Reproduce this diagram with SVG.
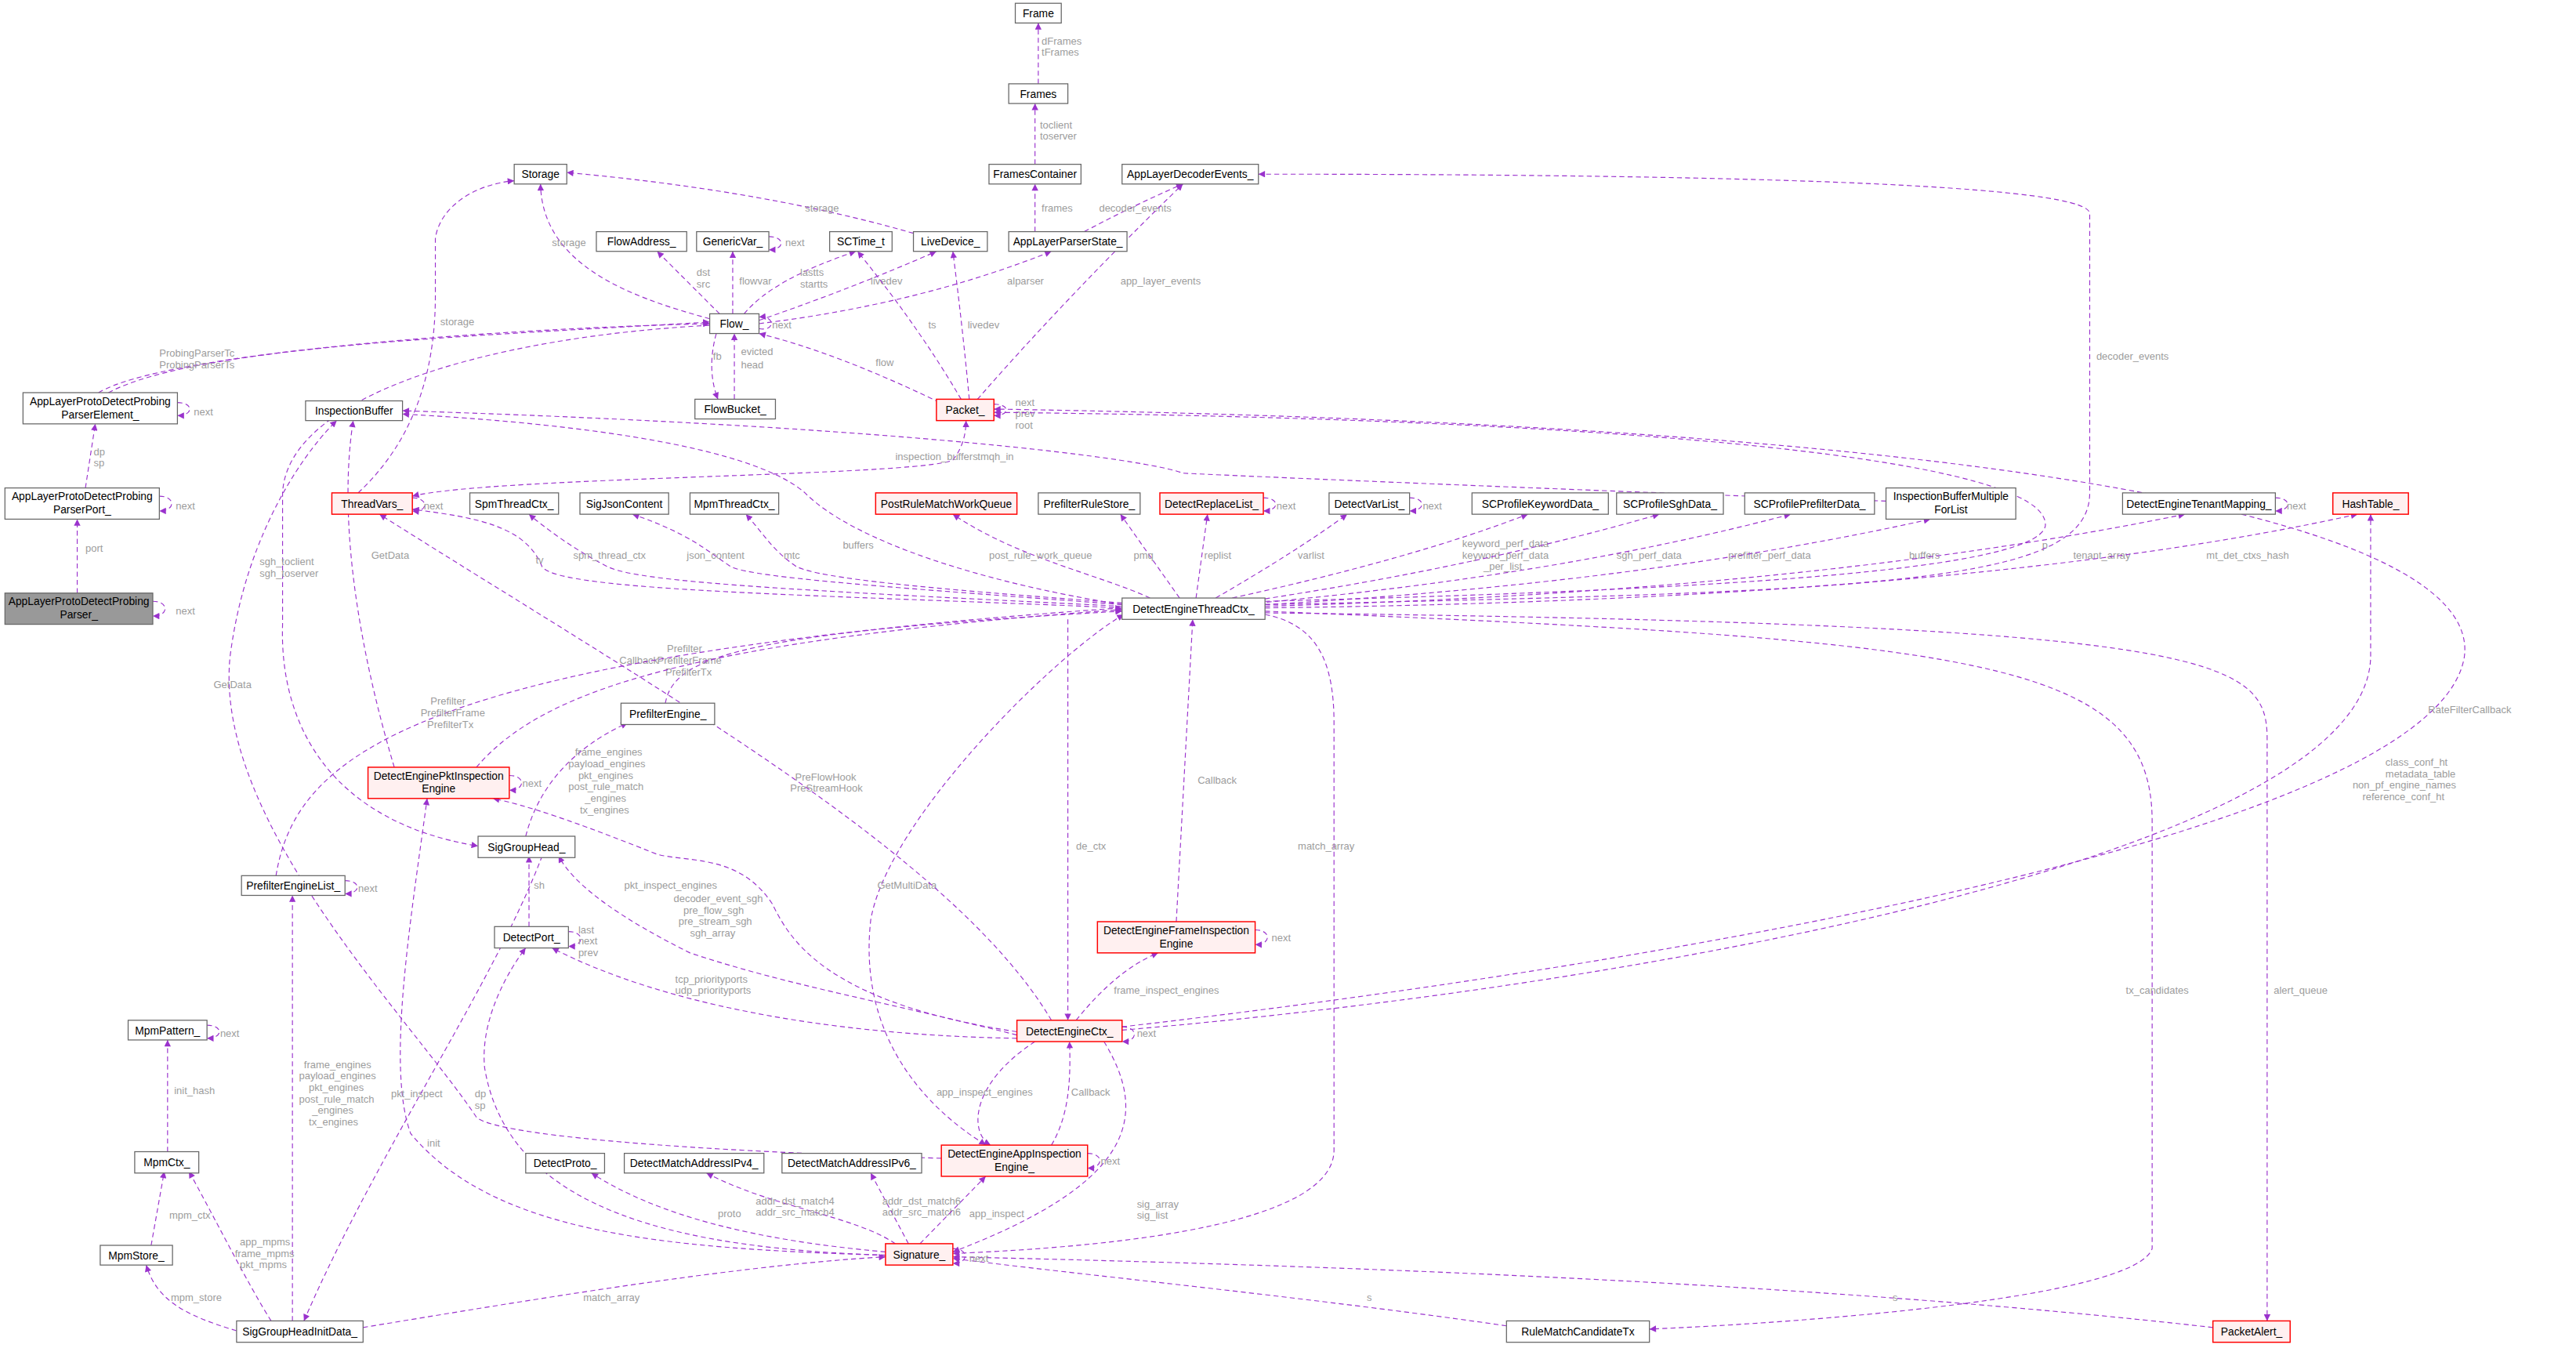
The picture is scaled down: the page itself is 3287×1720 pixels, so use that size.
<svg xmlns="http://www.w3.org/2000/svg" width="3287" height="1720" viewBox="0 0 3287 1720">
<style>
.n rect{fill:#fff;stroke:#666;stroke-width:0.6}
.r rect{fill:#fff0f0;stroke:#f00;stroke-width:0.7}
.g rect{fill:#999;stroke:#666;stroke-width:0.6}
.n text,.r text,.g text{font-family:"Liberation Sans",Arial,sans-serif;font-size:6.6px;text-anchor:middle;fill:#000}
#edges path{fill:none;stroke:#9a32cd;stroke-width:0.55;stroke-dasharray:3,2;marker-end:url(#h)}
#edges text{font-family:"Liberation Sans",Arial,sans-serif;font-size:6.2px;fill:#9c9c9c}
</style>
<defs>
<marker id="h" viewBox="0 0 10 10" refX="10" refY="5" markerUnits="userSpaceOnUse" markerWidth="5" markerHeight="4" orient="auto"><path d="M0,0 L10,5 L0,10 z" fill="#9a32cd"/></marker>
<marker id="hs" viewBox="0 0 10 10" refX="0" refY="5" markerUnits="userSpaceOnUse" markerWidth="5" markerHeight="4" orient="auto"><path d="M10,0 L0,5 L10,10 z" fill="#9a32cd"/></marker>
</defs>
<rect width="3287" height="1720" fill="#fff"/>
<g transform="scale(2.0963)">
<g id="edges">
<path d="M632,51 L632,14"/><text x="634" y="27">dFrames</text><text x="634" y="34">tFrames</text>
<path d="M630,100 L630,63"/><text x="633" y="78">toclient</text><text x="633" y="85">toserver</text>
<path d="M630,141 L630,112"/><text x="634" y="129">frames</text>
<path d="M660,141 Q690,125 720,112"/><text x="669" y="129">decoder_events</text>
<path d="M432,194 C380,180 330,160 329,112"/><text x="336" y="150">storage</text>
<path d="M556,142 C480,120 400,110 345,105"/><text x="490" y="129">storage</text>
<path d="M438,191 L400,153"/><text x="424" y="168">dst</text><text x="424" y="175">src</text>
<path d="M446,191 L446,153"/><text x="450" y="173">flowvar</text>
<path d="M468,144 C478,144 478,152 468,152"/><text x="478" y="150">next</text>
<path d="M453,191 Q470,170 521,153"/><text x="487" y="168">lastts</text><text x="487" y="175">startts</text>
<path d="M462,195 Q520,175 570,153"/><text x="530" y="173">livedev</text>
<path d="M462,197 Q560,185 640,153"/><text x="613" y="173">alparser</text>
<path d="M462,200 C472,202 472,192 462,193"/><text x="470" y="200">next</text>
<path d="M436,203 Q430,225 437,243"/><text x="434" y="219">fb</text>
<path d="M447,243 L447,203"/><text x="451" y="216">evicted</text><text x="451" y="224">head</text>
<path d="M572,245 Q510,215 462,203"/><text x="533" y="223">flow</text>
<path d="M585,243 Q560,200 522,153"/><text x="565" y="200">ts</text>
<path d="M590,243 Q586,200 580,153"/><text x="589" y="200">livedev</text>
<path d="M595,243 Q650,180 720,112"/><text x="682" y="173">app_layer_events</text>
<path d="M605,246 C615,246 615,253 605,253"/><text x="618" y="247">next</text><text x="618" y="254">prev</text><text x="618" y="261">root</text>
<path d="M60,239 C100,215 300,200 432,197"/>
<path d="M66,239 C120,210 300,204 432,196"/><text x="97" y="217">ProbingParserTc</text><text x="97" y="224">ProbingParserTs</text>
<path d="M108,245 C118,245 118,253 108,253"/><text x="118" y="253">next</text>
<path d="M52,297 L58,258"/><text x="57" y="277">dp</text><text x="57" y="284">sp</text>
<path d="M97,302 C107,302 107,311 97,311"/><text x="107" y="310">next</text>
<path d="M47,361 L47,316"/><text x="52" y="336">port</text>
<path d="M93,366 C103,366 103,375 93,375"/><text x="107" y="374">next</text>
<path d="M218,300 C250,270 265,230 265,180 L265,145 C268,125 290,112 313,110"/><text x="268" y="198">storage</text>
<path d="M251,303 C261,303 261,312 251,311"/><text x="258" y="310">next</text>
<path d="M251,302 C300,290 560,290 580,280 Q588,270 588,256" style="marker-start:url(#hs)"/><text x="595" y="280">tmqh_in</text>
<path d="M1148,305 C1000,300 760,290 720,288 C700,280 560,260 245,250"/><text x="545" y="280">inspection_buffers</text>
<path d="M683,368 C600,355 520,330 490,300 C450,265 300,255 245,252"/><text x="513" y="334">buffers</text>
<path d="M770,366 C1000,360 1240,350 1245,320 C1248,280 1000,255 605,251"/><text x="1243" y="334">p</text>
<path d="M683,625 C900,600 1480,520 1500,400 C1510,330 1300,260 605,249"/><text x="1478" y="434">RateFilterCallback</text>
<path d="M770,368 C1150,360 1272,355 1272,300 L1272,130 C1272,110 1000,106 766,106"/><text x="1276" y="219">decoder_events</text>
<path d="M683,370 C500,362 340,360 330,345 C320,320 290,315 251,310"/><text x="326" y="343">tv</text>
<path d="M683,369 C500,360 390,355 370,345 C350,335 330,320 322,313"/><text x="349" y="340">spm_thread_ctx</text>
<path d="M683,368 C550,358 460,352 445,345 C430,335 420,325 385,313"/><text x="418" y="340">json_content</text>
<path d="M683,367 C560,358 500,352 485,345 C470,335 465,325 454,313"/><text x="477" y="340">mtc</text>
<path d="M700,364 C670,350 620,340 580,313"/><text x="602" y="340">post_rule_work_queue</text>
<path d="M718,364 L682,313"/><text x="690" y="340">pmq</text>
<path d="M728,364 L735,313"/><text x="733" y="340">replist</text>
<path d="M740,364 Q790,335 820,313"/><text x="790" y="340">varlist</text>
<path d="M750,364 Q860,340 930,313"/><text x="890" y="333">keyword_perf_data</text><text x="890" y="340">keyword_perf_data</text><text x="903" y="347">_per_list</text>
<path d="M760,366 Q900,345 1010,313"/><text x="984" y="340">sgh_perf_data</text>
<path d="M766,367 Q950,350 1090,313"/><text x="1052" y="340">prefilter_perf_data</text>
<path d="M770,368 Q1000,355 1175,316"/><text x="1162" y="340">buffers</text>
<path d="M770,369 Q1100,360 1330,313"/><text x="1262" y="340">tenant_array</text>
<path d="M770,370 Q1200,365 1435,313"/><text x="1343" y="340">mt_det_ctxs_hash</text>
<path d="M1385,303 C1395,303 1395,311 1385,311"/><text x="1392" y="310">next</text>
<path d="M650,377 L650,621"/><text x="655" y="517">de_ctx</text>
<path d="M716,561 L726,377"/><text x="729" y="477">Callback</text>
<path d="M655,621 Q680,590 705,580"/><text x="678" y="605">frame_inspect_engines</text>
<path d="M764,566 C774,566 774,575 764,575"/><text x="774" y="573">next</text>
<path d="M683,625 C693,625 693,634 683,634"/><text x="692" y="631">next</text>
<path d="M630,634 C590,660 590,690 603,697"/><text x="570" y="667">app_inspect_engines</text>
<path d="M640,697 C650,680 652,660 651,634"/><text x="652" y="667">Callback</text>
<path d="M684,374 C640,400 540,500 530,560 C520,650 590,690 600,697" style="marker-start:url(#hs)"/><text x="534" y="541">GetMultiData</text>
<path d="M405,428 C410,400 450,385 683,372"/><text x="406" y="397">Prefilter</text><text x="400" y="404">PrefilterFrame</text><text x="405" y="411">PrefilterTx</text>
<path d="M290,467 C330,420 420,390 683,371"/><text x="377" y="404">Callback</text>
<path d="M168,533 C180,460 250,400 683,370"/><text x="262" y="429">Prefilter</text><text x="256" y="436">PrefilterFrame</text><text x="260" y="443">PrefilterTx</text>
<path d="M210,536 C220,536 220,544 210,544"/><text x="218" y="543">next</text>
<path d="M240,467 C220,400 205,320 215,256"/><text x="226" y="340">GetData</text>
<path d="M573,705 C400,700 300,690 290,680 C250,620 130,500 140,400 C150,320 190,270 205,256"/><text x="130" y="419">GetData</text>
<path d="M432,198 C300,205 175,240 172,300 L172,380 C170,440 200,500 291,515"/><text x="158" y="344">sgh_toclient</text><text x="158" y="351">sgh_toserver</text>
<path d="M320,509 C330,470 360,450 382,440"/><text x="350" y="460">frame_engines</text><text x="346" y="467">payload_engines</text><text x="352" y="474">pkt_engines</text><text x="346" y="481">post_rule_match</text><text x="356" y="488">_engines</text><text x="353" y="495">tx_engines</text>
<path d="M322,564 L322,521"/><text x="325" y="541">sh</text>
<path d="M346,567 C356,567 356,576 346,576"/><text x="352" y="568">last</text><text x="352" y="575">next</text><text x="352" y="582">prev</text>
<path d="M619,630 C540,610 480,600 420,580 C380,560 350,540 340,521"/><text x="410" y="549">decoder_event_sgh</text><text x="416" y="556">pre_flow_sgh</text><text x="413" y="563">pre_stream_sgh</text><text x="420" y="570">sgh_array</text>
<path d="M619,632 C500,630 400,610 336,577"/><text x="411" y="598">tcp_priorityports</text><text x="411" y="605">udp_priorityports</text>
<path d="M619,628 C500,610 480,570 470,550 C450,520 420,525 400,520 C350,500 320,490 300,486"/><text x="380" y="541">pkt_inspect_engines</text>
<path d="M672,634 C700,680 690,720 580,762"/><text x="692" y="735">sig_array</text><text x="692" y="742">sig_list</text>
<path d="M770,374 C800,380 812,400 812,440 L812,700 C812,750 650,760 580,763"/><text x="790" y="517">match_array</text>
<path d="M770,372 C1200,390 1310,400 1310,500 L1310,760 C1300,790 1100,805 1004,809"/><text x="1294" y="605">tx_candidates</text>
<path d="M770,373 C1350,380 1380,400 1380,450 L1380,804"/><text x="1384" y="605">alert_queue</text>
<path d="M917,807 C800,790 650,775 580,766"/><text x="832" y="792">s</text>
<path d="M1347,808 C1100,780 800,770 580,765"/><text x="1152" y="792">s</text>
<path d="M580,760 C590,760 590,769 580,769"/><text x="590" y="768">next</text>
<path d="M539,762 C460,755 400,740 360,714"/><text x="437" y="741">proto</text>
<path d="M545,757 C520,740 470,735 430,714"/><text x="460" y="733">addr_dst_match4</text><text x="460" y="740">addr_src_match4</text>
<path d="M553,757 L530,714"/><text x="537" y="733">addr_dst_match6</text><text x="537" y="740">addr_src_match6</text>
<path d="M560,757 L600,716"/><text x="590" y="741">app_inspect</text>
<path d="M539,764 C420,760 310,740 295,650 C292,620 310,590 320,577"/><text x="289" y="668">dp</text><text x="289" y="675">sp</text>
<path d="M539,764 C400,760 300,750 250,690 C235,650 250,560 260,486"/><text x="238" y="668">pkt_inspect</text>
<path d="M330,521 C300,600 230,700 185,804"/><text x="260" y="698">init</text>
<path d="M178,804 L178,545"/><text x="185" y="650">frame_engines</text><text x="182" y="657">payload_engines</text><text x="188" y="664">pkt_engines</text><text x="182" y="671">post_rule_match</text><text x="190" y="678">_engines</text><text x="188" y="685">tx_engines</text>
<path d="M144,810 C110,800 95,790 89,770"/><text x="104" y="792">mpm_store</text>
<path d="M165,804 C150,780 130,740 115,713"/><text x="146" y="758">app_mpms</text><text x="143" y="765">frame_mpms</text><text x="146" y="772">pkt_mpms</text>
<path d="M92,758 L100,713"/><text x="103" y="742">mpm_ctx</text>
<path d="M102,701 L102,633"/><text x="106" y="666">init_hash</text>
<path d="M126,624 C136,624 136,632 126,632"/><text x="134" y="631">next</text>
<path d="M221,808 C330,790 450,770 539,765"/><text x="355" y="792">match_array</text>
<path d="M683,627 C1000,600 1440,520 1443,400 L1443,313"/><text x="1452" y="466">class_conf_ht</text><text x="1452" y="473">metadata_table</text><text x="1432" y="480">non_pf_engine_names</text><text x="1438" y="487">reference_conf_ht</text>
<path d="M640,621 C580,520 400,420 231,313"/><text x="484" y="475">PreFlowHook</text><text x="481" y="482">PreStreamHook</text>
<path d="M310,472 C320,472 320,481 310,481"/><text x="318" y="479">next</text>
<path d="M662,702 C672,702 672,711 662,711"/><text x="670" y="709">next</text>
<path d="M858,303 C868,303 868,311 858,311"/><text x="866" y="310">next</text>
<path d="M769,303 C779,303 779,311 769,311"/><text x="777" y="310">next</text>
</g>
<g id="Frame" class="n"><rect x="618" y="2" width="28" height="12"/><text x="632" y="10.5">Frame</text></g>
<g id="Frames" class="n"><rect x="614" y="51" width="36" height="12"/><text x="632" y="59.5">Frames</text></g>
<g id="FramesContainer" class="n"><rect x="602" y="100" width="56" height="12"/><text x="630" y="108.5">FramesContainer</text></g>
<g id="AppLayerDecoderEvents" class="n"><rect x="683" y="100" width="83" height="12"/><text x="724.5" y="108.5">AppLayerDecoderEvents_</text></g>
<g id="Storage" class="n"><rect x="313" y="100" width="32" height="12"/><text x="329" y="108.5">Storage</text></g>
<g id="FlowAddress" class="n"><rect x="363" y="141" width="55" height="12"/><text x="390.5" y="149.5">FlowAddress_</text></g>
<g id="GenericVar" class="n"><rect x="424" y="141" width="44" height="12"/><text x="446" y="149.5">GenericVar_</text></g>
<g id="SCTime" class="n"><rect x="505" y="141" width="38" height="12"/><text x="524" y="149.5">SCTime_t</text></g>
<g id="LiveDevice" class="n"><rect x="556" y="141" width="45" height="12"/><text x="578.5" y="149.5">LiveDevice_</text></g>
<g id="AppLayerParserState" class="n"><rect x="614" y="141" width="72" height="12"/><text x="650" y="149.5">AppLayerParserState_</text></g>
<g id="Flow" class="n"><rect x="432" y="191" width="30" height="12"/><text x="447" y="199.5">Flow_</text></g>
<g id="FlowBucket" class="n"><rect x="423" y="243" width="49" height="12"/><text x="447.5" y="251.5">FlowBucket_</text></g>
<g id="Packet" class="r"><rect x="570" y="243" width="35" height="13"/><text x="587.5" y="252">Packet_</text></g>
<g id="InspectionBuffer" class="n"><rect x="186" y="244" width="59" height="12"/><text x="215.5" y="252.5">InspectionBuffer</text></g>
<g id="ProbingParserElement" class="n"><rect x="14" y="239" width="94" height="19"/><text x="61" y="246.5">AppLayerProtoDetectProbing</text><text x="61" y="254.5">ParserElement_</text></g>
<g id="ProbingParserPort" class="n"><rect x="3" y="297" width="94" height="19"/><text x="50" y="304.5">AppLayerProtoDetectProbing</text><text x="50" y="312.5">ParserPort_</text></g>
<g id="ProbingParser" class="g"><rect x="3" y="361" width="90" height="19"/><text x="48" y="368.5">AppLayerProtoDetectProbing</text><text x="48" y="376.5">Parser_</text></g>
<g id="ThreadVars" class="r"><rect x="202" y="300" width="49" height="13"/><text x="226.5" y="309">ThreadVars_</text></g>
<g id="SpmThreadCtx" class="n"><rect x="286" y="300" width="54" height="13"/><text x="313" y="309">SpmThreadCtx_</text></g>
<g id="SigJsonContent" class="n"><rect x="353" y="300" width="54" height="13"/><text x="380" y="309">SigJsonContent</text></g>
<g id="MpmThreadCtx" class="n"><rect x="420" y="300" width="54" height="13"/><text x="447" y="309">MpmThreadCtx_</text></g>
<g id="PostRuleMatchWorkQueue" class="r"><rect x="533" y="300" width="86" height="13"/><text x="576" y="309">PostRuleMatchWorkQueue</text></g>
<g id="PrefilterRuleStore" class="n"><rect x="632" y="300" width="62" height="13"/><text x="663" y="309">PrefilterRuleStore_</text></g>
<g id="DetectReplaceList" class="r"><rect x="706" y="300" width="63" height="13"/><text x="737.5" y="309">DetectReplaceList_</text></g>
<g id="DetectVarList" class="n"><rect x="809" y="300" width="49" height="13"/><text x="833.5" y="309">DetectVarList_</text></g>
<g id="SCProfileKeywordData" class="n"><rect x="896" y="300" width="83" height="13"/><text x="937.5" y="309">SCProfileKeywordData_</text></g>
<g id="SCProfileSghData" class="n"><rect x="984" y="300" width="65" height="13"/><text x="1016.5" y="309">SCProfileSghData_</text></g>
<g id="SCProfilePrefilterData" class="n"><rect x="1062" y="300" width="79" height="13"/><text x="1101.5" y="309">SCProfilePrefilterData_</text></g>
<g id="InspectionBufferMultipleForList" class="n"><rect x="1148" y="297" width="79" height="19"/><text x="1187.5" y="304.5">InspectionBufferMultiple</text><text x="1187.5" y="312.5">ForList</text></g>
<g id="DetectEngineTenantMapping" class="n"><rect x="1292" y="300" width="93" height="13"/><text x="1338.5" y="309">DetectEngineTenantMapping_</text></g>
<g id="HashTable" class="r"><rect x="1420" y="300" width="46" height="13"/><text x="1443" y="309">HashTable_</text></g>
<g id="DetectEngineThreadCtx" class="n"><rect x="683" y="364" width="87" height="13"/><text x="726.5" y="373">DetectEngineThreadCtx_</text></g>
<g id="PrefilterEngine" class="n"><rect x="378" y="428" width="57" height="13"/><text x="406.5" y="437">PrefilterEngine_</text></g>
<g id="DetectEnginePktInspectionEngine" class="r"><rect x="224" y="467" width="86" height="19"/><text x="267" y="474.5">DetectEnginePktInspection</text><text x="267" y="482.5">Engine</text></g>
<g id="SigGroupHead" class="n"><rect x="291" y="509" width="59" height="13"/><text x="320.5" y="518">SigGroupHead_</text></g>
<g id="PrefilterEngineList" class="n"><rect x="147" y="533" width="63" height="12"/><text x="178.5" y="541.5">PrefilterEngineList_</text></g>
<g id="DetectPort" class="n"><rect x="301" y="564" width="45" height="13"/><text x="323.5" y="573">DetectPort_</text></g>
<g id="MpmPattern" class="n"><rect x="78" y="621" width="48" height="12"/><text x="102" y="629.5">MpmPattern_</text></g>
<g id="DetectEngineFrameInspectionEngine" class="r"><rect x="668" y="561" width="96" height="19"/><text x="716" y="568.5">DetectEngineFrameInspection</text><text x="716" y="576.5">Engine</text></g>
<g id="DetectEngineCtx" class="r"><rect x="619" y="621" width="64" height="13"/><text x="651" y="630">DetectEngineCtx_</text></g>
<g id="MpmCtx" class="n"><rect x="82" y="701" width="39" height="13"/><text x="101.5" y="710">MpmCtx_</text></g>
<g id="DetectProto" class="n"><rect x="320" y="702" width="48" height="12"/><text x="344" y="710.5">DetectProto_</text></g>
<g id="DetectMatchAddressIPv4" class="n"><rect x="380" y="702" width="85" height="12"/><text x="422.5" y="710.5">DetectMatchAddressIPv4_</text></g>
<g id="DetectMatchAddressIPv6" class="n"><rect x="476" y="702" width="85" height="12"/><text x="518.5" y="710.5">DetectMatchAddressIPv6_</text></g>
<g id="DetectEngineAppInspectionEngine" class="r"><rect x="573" y="697" width="89" height="19"/><text x="617.5" y="704.5">DetectEngineAppInspection</text><text x="617.5" y="712.5">Engine_</text></g>
<g id="MpmStore" class="n"><rect x="61" y="758" width="44" height="12"/><text x="83" y="766.5">MpmStore_</text></g>
<g id="Signature" class="r"><rect x="539" y="757" width="41" height="13"/><text x="559.5" y="766">Signature_</text></g>
<g id="SigGroupHeadInitData" class="n"><rect x="144" y="804" width="77" height="13"/><text x="182.5" y="813">SigGroupHeadInitData_</text></g>
<g id="RuleMatchCandidateTx" class="n"><rect x="917" y="804" width="87" height="13"/><text x="960.5" y="813">RuleMatchCandidateTx</text></g>
<g id="PacketAlert" class="r"><rect x="1347" y="804" width="47" height="13"/><text x="1370.5" y="813">PacketAlert_</text></g>
</g>
</svg>
